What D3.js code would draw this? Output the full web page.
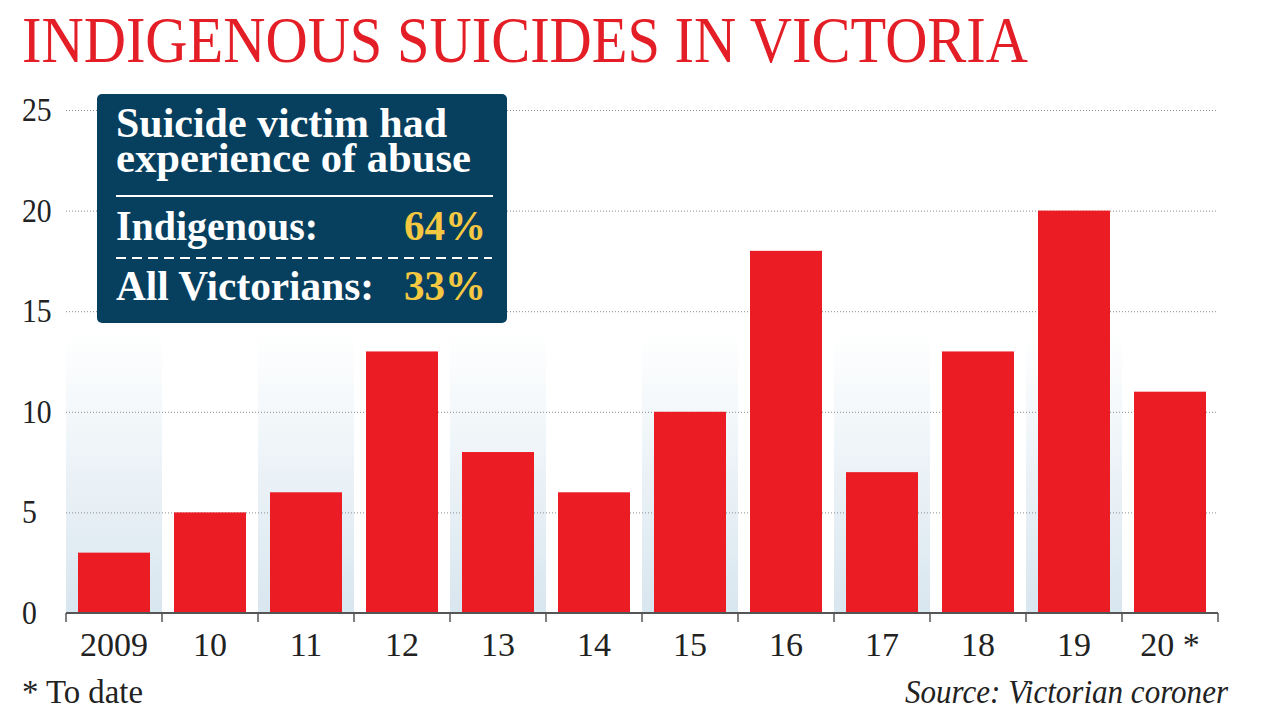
<!DOCTYPE html>
<html><head><meta charset="utf-8">
<script src="https://cdn.jsdelivr.net/npm/d3@7"></script>
<style>html,body{margin:0;padding:0;background:#fff;}svg{display:block;}</style>
</head><body>
<script>
const categories = ["2009","10","11","12","13","14","15","16","17","18","19","20 *"];
const values = [3,5,6,13,8,6,10,18,7,13,20,11];
const yTicks = [0,5,10,15,20,25];
const boxHeading = ["Suicide victim had","experience of abuse"];
const boxRows = [{label:"Indigenous:", value:"64%"},{label:"All Victorians:", value:"33%"}];

const W=1280,H=720;
const svg=d3.select("body").append("svg").attr("width",W).attr("height",H);
const serif='"Liberation Serif","DejaVu Serif",serif';

const x=d3.scaleBand().domain(categories).range([66,1218]).paddingInner(0.25).paddingOuter(0.125);
const y=d3.scaleLinear().domain([0,25]).range([613,110]);

const defs=svg.append("defs");
const g=defs.append("linearGradient").attr("id","bg").attr("x1",0).attr("y1",0).attr("x2",0).attr("y2",1);
g.append("stop").attr("offset","0%").attr("stop-color","#ffffff");
g.append("stop").attr("offset","100%").attr("stop-color","#d8e6ef");

// title
svg.append("text").attr("x",22).attr("y",62).attr("fill","#e41e26")
  .attr("font-family",serif).attr("font-size",65)
  .attr("textLength",1006).attr("lengthAdjust","spacingAndGlyphs")
  .text("INDIGENOUS SUICIDES IN VICTORIA");

// background bands
const step=x.step();
svg.append("g").selectAll("rect").data(categories.filter((d,i)=>i%2===0)).join("rect")
  .attr("x",d=>x(d)-step*x.paddingInner()/2).attr("width",step)
  .attr("y",y(14)).attr("height",y(0)-y(14)).attr("fill","url(#bg)");

// grid
svg.append("g").selectAll("line").data(yTicks.filter(d=>d>0)).join("line")
  .attr("x1",66).attr("x2",1216).attr("y1",d=>y(d)+0.5).attr("y2",d=>y(d)+0.5)
  .attr("stroke","#8a8a8a").attr("stroke-width",1).attr("stroke-dasharray","1,2");

// y labels
svg.append("g").selectAll("text").data(yTicks).join("text")
  .attr("transform",d=>`translate(22,${y(d)+11}) scale(0.9,1)`)
  .attr("font-family",serif).attr("font-size",33).attr("fill","#222")
  .text(d=>d);

// bars
svg.append("g").selectAll("rect").data(values).join("rect")
  .attr("x",(d,i)=>x(categories[i])).attr("width",x.bandwidth())
  .attr("y",d=>y(d)).attr("height",d=>y(0)-y(d)).attr("fill","#ec1c24");

// x axis
const ax=svg.append("g").attr("transform","translate(0,613)");
ax.append("line").attr("x1",66).attr("x2",1218).attr("stroke","#555").attr("stroke-width",2);
const bounds=categories.map(c=>x(c)-step*x.paddingInner()/2).concat([1218]);
ax.selectAll("line.t").data(bounds).join("line").attr("class","t")
  .attr("x1",d=>d).attr("x2",d=>d).attr("y1",0).attr("y2",9).attr("stroke","#555").attr("stroke-width",1.5);
ax.selectAll("text").data(categories).join("text")
  .attr("x",d=>x(d)+x.bandwidth()/2).attr("y",43).attr("text-anchor","middle")
  .attr("font-family",serif).attr("font-size",34).attr("fill","#222").text(d=>d);

// footnotes
svg.append("text").attr("x",22).attr("y",703).attr("font-family",serif).attr("font-size",33).attr("fill","#222")
  .attr("textLength",121).attr("lengthAdjust","spacingAndGlyphs").text("* To date");
svg.append("text").attr("x",905).attr("y",703).attr("font-family",serif).attr("font-style","italic").attr("font-size",33).attr("fill","#222")
  .attr("textLength",323).attr("lengthAdjust","spacingAndGlyphs").text("Source: Victorian coroner");

// info box
const bx=svg.append("g");
bx.append("rect").attr("x",97).attr("y",94).attr("width",410).attr("height",229).attr("rx",5).attr("fill","#07405f");
const head=bx.append("text").attr("font-family",serif).attr("font-weight","bold").attr("font-size",42).attr("fill","#fff");
const headY=[137,172], headW=[331,355];
boxHeading.forEach((t,i)=>{
  head.append("tspan").attr("x",116).attr("y",headY[i])
    .attr("textLength",headW[i]).attr("lengthAdjust","spacingAndGlyphs").text(t);
});
bx.append("line").attr("x1",116).attr("x2",493).attr("y1",196).attr("y2",196).attr("stroke","#fff").attr("stroke-width",2);
bx.append("line").attr("x1",116).attr("x2",492).attr("y1",258).attr("y2",258).attr("stroke","#fff").attr("stroke-width",2).attr("stroke-dasharray","10,6");
const rowY=[240,300], labW=[202,258];
boxRows.forEach((r,i)=>{
  bx.append("text").attr("x",116).attr("y",rowY[i]).attr("font-family",serif).attr("font-weight","bold").attr("font-size",42).attr("fill","#fff")
    .attr("textLength",labW[i]).attr("lengthAdjust","spacingAndGlyphs").text(r.label);
  bx.append("text").attr("x",404).attr("y",rowY[i]).attr("font-family",serif).attr("font-weight","bold").attr("font-size",42).attr("fill","#f5c842")
    .attr("textLength",82).attr("lengthAdjust","spacingAndGlyphs").text(r.value);
});
</script>
</body></html>
